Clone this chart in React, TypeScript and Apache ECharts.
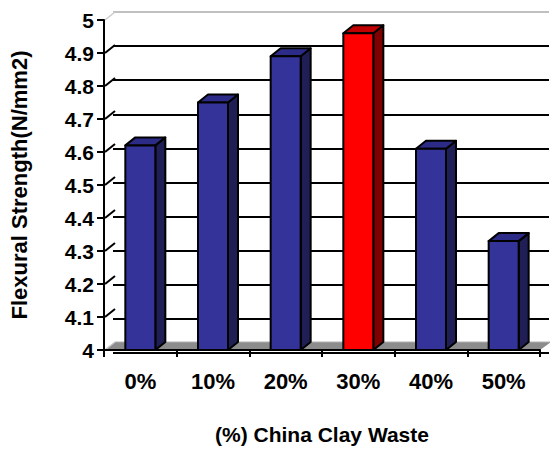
import React, { useEffect, useRef } from 'react';
import * as echarts from 'echarts';

const categories = ['0%', '10%', '20%', '30%', '40%', '50%'];
const strength = [4.62, 4.75, 4.89, 4.96, 4.61, 4.33];
const highlighted = '30%';
const yTickValues = [4, 4.1, 4.2, 4.3, 4.4, 4.5, 4.6, 4.7, 4.8, 4.9, 5];

const FONT = 'Liberation Sans, Arial, sans-serif';
const DEPTH_X = 11;
const DEPTH_Y = -8;

export default function App() {
  const ref = useRef<HTMLDivElement>(null);

  useEffect(() => {
    if (!ref.current) return;
    const chart = echarts.init(ref.current, undefined, { renderer: 'svg' });

    const wallColors = yTickValues.map((v, i) =>
      i === yTickValues.length - 1 ? '#c0c0c0' : '#000000'
    );

    const option: any = {
      animation: false,
      backgroundColor: '#ffffff',
      grid: [
        { left: 102, right: 10, top: 20, bottom: 89 },
        { left: 102 + DEPTH_X, right: 10 - DEPTH_X + 2, top: 20 + DEPTH_Y, bottom: 89 - DEPTH_Y },
      ],
      xAxis: [
        {
          type: 'category',
          gridIndex: 0,
          data: categories,
          name: '(%) China Clay Waste',
          nameLocation: 'middle',
          nameGap: 74,
          nameTextStyle: { fontFamily: FONT, fontWeight: 'bold', fontSize: 21, color: '#000' },
          axisLine: { show: true, lineStyle: { color: '#000', width: 2 } },
          axisTick: { show: true, alignWithLabel: false, length: 7, lineStyle: { color: '#000', width: 2 } },
          axisLabel: { fontFamily: FONT, fontWeight: 'bold', fontSize: 22, color: '#000', margin: 20 },
          splitLine: { show: false },
          z: 5,
        },
        {
          type: 'category',
          gridIndex: 1,
          data: categories,
          show: false,
        },
      ],
      yAxis: [
        {
          type: 'value',
          gridIndex: 0,
          min: 4,
          max: 5,
          interval: 0.1,
          name: 'Flexural Strength(N/mm2)',
          nameLocation: 'middle',
          nameGap: 74,
          nameRotate: 90,
          nameTextStyle: { fontFamily: FONT, fontWeight: 'bold', fontSize: 22, color: '#000' },
          axisLine: { show: true, lineStyle: { color: '#000', width: 2 } },
          axisTick: { show: true, inside: false, length: 7, lineStyle: { color: '#000', width: 2 } },
          axisLabel: {
            fontFamily: FONT,
            fontWeight: 'bold',
            fontSize: 21,
            color: '#000',
            margin: 10,
            formatter: (v: number) => String(Math.round(v * 10) / 10),
          },
          splitLine: { show: false },
          z: 5,
        },
        {
          type: 'value',
          gridIndex: 1,
          min: 4,
          max: 5,
          interval: 0.1,
          axisLine: { show: false },
          axisTick: { show: false },
          axisLabel: { show: false },
          splitLine: { show: true, lineStyle: { color: wallColors, width: 2 } },
        },
      ],
      series: [
        {
          type: 'custom',
          xAxisIndex: 0,
          yAxisIndex: 0,
          z: 1,
          silent: true,
          clip: false,
          data: [[0, 4]],
          renderItem: (params: any, api: any) => {
            const cs = params.coordSys;
            const x0 = cs.x;
            const x1 = cs.x + cs.width;
            const yb = api.coord([0, 4])[1];
            const children: any[] = [];
            children.push({
              type: 'polygon',
              shape: {
                points: [
                  [x0, yb],
                  [x1, yb],
                  [x1 + DEPTH_X, yb + DEPTH_Y],
                  [x0 + DEPTH_X, yb + DEPTH_Y],
                ],
              },
              style: { fill: '#8c8c8c', stroke: 'none' },
            });
            children.push({
              type: 'line',
              shape: { x1: x0 + DEPTH_X, y1: yb + DEPTH_Y, x2: x1 + DEPTH_X, y2: yb + DEPTH_Y },
              style: { stroke: '#b0b0b0', lineWidth: 1 },
            });
            yTickValues.forEach((v, i) => {
              const y = api.coord([0, v])[1];
              const isEdge = i === 0 || i === yTickValues.length - 1;
              children.push({
                type: 'line',
                shape: { x1: x0 + 1, y1: y, x2: x0 + DEPTH_X, y2: y + DEPTH_Y },
                style: { stroke: isEdge ? '#c8c8c8' : '#000', lineWidth: isEdge ? 1.2 : 2 },
              });
            });
            return { type: 'group', children };
          },
        },
        {
          type: 'custom',
          xAxisIndex: 0,
          yAxisIndex: 0,
          z: 3,
          clip: false,
          data: categories.map((c, i) => [i, strength[i]]),
          renderItem: (params: any, api: any) => {
            const idx = api.value(0);
            const val = api.value(1);
            const top = api.coord([idx, val]);
            const base = api.coord([idx, 4]);
            const bw = 30;
            const dx = 10;
            const dy = -8;
            const xl = top[0] - bw / 2;
            const xr = top[0] + bw / 2;
            const yt = top[1];
            const yb = base[1];
            const red = categories[idx] === highlighted;
            const front = red ? '#ff0000' : '#333399';
            const side = red ? '#800000' : '#1f1f55';
            const topC = red ? '#c00000' : '#2c2c88';
            const stroke = { stroke: '#000', lineWidth: 2, lineJoin: 'round' };
            return {
              type: 'group',
              children: [
                {
                  type: 'polygon',
                  shape: { points: [[xr, yb], [xr + dx, yb + dy], [xr + dx, yt + dy], [xr, yt]] },
                  style: { fill: side, ...stroke },
                },
                {
                  type: 'polygon',
                  shape: { points: [[xl, yt], [xr, yt], [xr + dx, yt + dy], [xl + dx, yt + dy]] },
                  style: { fill: topC, ...stroke },
                },
                {
                  type: 'rect',
                  shape: { x: xl, y: yt, width: bw, height: yb - yt },
                  style: { fill: front, ...stroke },
                },
              ],
            };
          },
        },
      ],
    };

    chart.setOption(option);
    return () => chart.dispose();
  }, []);

  return <div ref={ref} style={{ width: 550, height: 450, position: 'absolute', left: 0, top: 0 }} />;
}
